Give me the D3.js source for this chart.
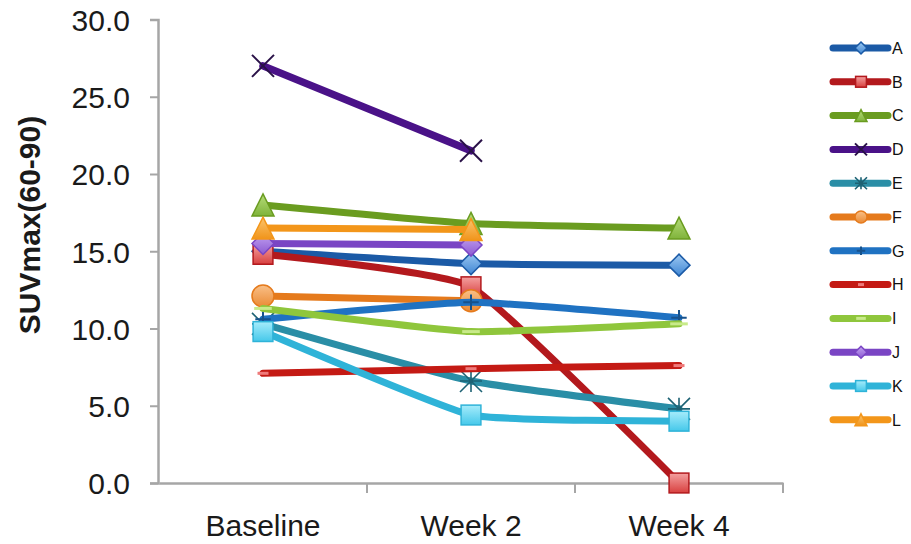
<!DOCTYPE html>
<html>
<head>
<meta charset="utf-8">
<script src="https://cdn.jsdelivr.net/npm/d3@7"></script>
<style>
  html, body { margin: 0; padding: 0; background: #fff; }
  svg { display: block; font-family: "Liberation Sans", Arial, sans-serif; }
</style>
</head>
<body>
<svg id="chart" width="911" height="544"></svg>
<script>
// Time points on the x axis
const categories = ["Baseline", "Week 2", "Week 4"];

// Patients (series names)
const seriesNames = ["A", "B", "C", "D", "E", "F", "G", "H", "I", "J", "K", "L"];

// SUVmax(60-90) per patient at each time point (null = not measured)
const valuesA = [15.0, 14.2, 14.1];
const valuesB = [14.8, 12.7, 0.0];
const valuesC = [18.0, 16.8, 16.5];
const valuesD = [27.0, 21.5, null];
const valuesE = [10.3, 6.6, 4.8];
const valuesF = [12.1, 11.8, null];
const valuesG = [10.6, 11.7, 10.7];
const valuesH = [7.1, 7.4, 7.6];
const valuesI = [11.3, 9.8, 10.3];
const valuesJ = [15.5, 15.4, null];
const valuesK = [9.8, 4.4, 4.0];
const valuesL = [16.5, 16.4, null];

// Y axis tick values
const yTicks = [0, 5, 10, 15, 20, 25, 30];

const allValues = [valuesA, valuesB, valuesC, valuesD, valuesE, valuesF,
                   valuesG, valuesH, valuesI, valuesJ, valuesK, valuesL];

// Line colour, marker fill (light / dark) and marker kind per series
const lineColors = ["#1b5aa6", "#b3191d", "#6a9c20", "#4a1288", "#2a8ea6", "#e57a1c",
                    "#1f72c2", "#c41a14", "#8fc63c", "#7a45c4", "#2fb3d8", "#f3961a"];
const fillLight  = ["#9cc8f2", "#f4a0a0", "#b6dc7a", "#4a1288", "#2a8ea6", "#f9c088",
                    "#1f72c2", "#c41a14", "#8fc63c", "#c4a4f2", "#a6ecfb", "#fbc46e"];
const fillDark   = ["#3f86d4", "#d8403f", "#7fb33a", "#4a1288", "#2a8ea6", "#ea8a34",
                    "#1f72c2", "#c41a14", "#8fc63c", "#8c5ad2", "#45c8ea", "#f0941a"];
const markerKinds = ["diamond", "square", "triangle", "x", "asterisk", "circle",
                     "plus", "dash", "longdash", "diamond", "square", "triangle"];

const series = seriesNames.map((name, i) => ({
  name, values: allValues[i], color: lineColors[i],
  light: fillLight[i], dark: fillDark[i], kind: markerKinds[i], idx: i
}));

const svg = d3.select("#chart");

// gradients for filled markers
const defs = svg.append("defs");
series.forEach(s => {
  const g = defs.append("linearGradient").attr("id", "grad" + s.idx)
    .attr("x1", 0).attr("y1", 0).attr("x2", 0).attr("y2", 1);
  g.append("stop").attr("offset", "0%").attr("stop-color", s.light);
  g.append("stop").attr("offset", "100%").attr("stop-color", s.dark);
});

const x = d3.scaleBand().domain(categories).range([159, 783]).padding(0);
const y = d3.scaleLinear().domain([0, 30]).range([483, 19.5]);
const cx = c => x(c) + x.bandwidth() / 2;

// Y axis
const yAxis = svg.append("g").attr("transform", "translate(158,0)")
  .call(d3.axisLeft(y).tickValues(yTicks).tickFormat(d3.format(".1f"))
        .tickSize(8).tickPadding(20));
yAxis.select(".domain").attr("stroke", "#a6a6a6").attr("stroke-width", 2.5);
yAxis.selectAll(".tick line").attr("stroke", "#a6a6a6").attr("stroke-width", 2);
yAxis.selectAll(".tick text").attr("font-size", 30).attr("fill", "#1a1a1a")
  .attr("dy", "0.36em");

// X axis: labels at category centres, tick marks between categories
const xAxis = svg.append("g").attr("transform", "translate(0,483)")
  .call(d3.axisBottom(x).tickSize(0).tickPadding(0));
xAxis.select(".domain").attr("stroke", "#a6a6a6").attr("stroke-width", 2.5);
xAxis.selectAll(".tick text").attr("font-size", 30).attr("fill", "#1a1a1a")
  .attr("y", 53).attr("dy", 0);
xAxis.selectAll(".sep").data(categories.slice(1).concat(["end"]))
  .join("line").attr("class", "sep")
  .attr("x1", (d, i) => x.range()[0] + x.step() * (i + 1))
  .attr("x2", (d, i) => x.range()[0] + x.step() * (i + 1))
  .attr("y1", 0).attr("y2", 10)
  .attr("stroke", "#a6a6a6").attr("stroke-width", 2);

// Y axis title
svg.append("text")
  .attr("transform", "translate(40,225) rotate(-90)")
  .attr("text-anchor", "middle")
  .attr("font-size", 30).attr("font-weight", "bold").attr("fill", "#1a1a1a")
  .text("SUVmax(60-90)");

// Marker drawing
function drawMarker(g, s, size) {
  const r = size / 2;
  const fill = "url(#grad" + s.idx + ")";
  switch (s.kind) {
    case "diamond":
      g.append("path").attr("d", `M0,${-r}L${r},0L0,${r}L${-r},0Z`)
        .attr("fill", fill).attr("stroke", s.color).attr("stroke-width", 1.5);
      break;
    case "square":
      g.append("rect").attr("x", -r * 0.9).attr("y", -r * 0.9)
        .attr("width", r * 1.8).attr("height", r * 1.8)
        .attr("fill", fill).attr("stroke", s.color).attr("stroke-width", 1.5);
      break;
    case "triangle":
      g.append("path").attr("d", `M0,${-r}L${r},${r}L${-r},${r}Z`)
        .attr("fill", fill).attr("stroke", s.color).attr("stroke-width", 1.5);
      break;
    case "circle":
      g.append("circle").attr("r", r)
        .attr("fill", fill).attr("stroke", s.color).attr("stroke-width", 1.5);
      break;
    case "x":
      g.append("path").attr("d", `M${-r},${-r}L${r},${r}M${-r},${r}L${r},${-r}`)
        .attr("stroke", "#2a1248").attr("stroke-width", 2).attr("fill", "none");
      break;
    case "asterisk":
      g.append("path")
        .attr("d", `M${-r},${-r}L${r},${r}M${-r},${r}L${r},${-r}M0,${-r}L0,${r}M${-r},0L${r},0`)
        .attr("stroke", "#1d6274").attr("stroke-width", 1.6).attr("fill", "none");
      break;
    case "plus":
      g.append("path").attr("d", `M0,${-r * 0.7}L0,${r * 0.7}M${-r * 0.7},0L${r * 0.7},0`)
        .attr("stroke", "#17528c").attr("stroke-width", 2).attr("fill", "none");
      break;
    case "dash":
      g.append("path").attr("d", `M${-r * 0.5},0L${r * 0.5},0`)
        .attr("stroke", "#ef7a7a").attr("stroke-width", 3).attr("fill", "none");
      break;
    case "longdash":
      g.append("path").attr("d", `M${-r * 0.8},0L${r * 0.8},0`)
        .attr("stroke", "#c8ea8a").attr("stroke-width", 3).attr("fill", "none");
      break;
  }
}

// Lines (lightly smoothed) and markers, one group per series in order
const line = d3.line()
  .defined(d => d.v !== null)
  .x(d => cx(d.c)).y(d => y(d.v))
  .curve(d3.curveCardinal.tension(0.6));

series.forEach(s => {
  const pts = categories.map((c, i) => ({ c, v: s.values[i] }));
  const g = svg.append("g").attr("class", "series");
  g.append("path").datum(pts)
    .attr("d", line)
    .attr("fill", "none").attr("stroke", s.color)
    .attr("stroke-width", s.kind === "x" ? 7.5 : 7)
    .attr("stroke-linejoin", "round").attr("stroke-linecap", "round");
  pts.filter(p => p.v !== null).forEach(p => {
    const m = g.append("g").attr("transform", `translate(${cx(p.c)},${y(p.v)})`);
    drawMarker(m, s, 22);
  });
});

// Legend
const legend = svg.append("g").attr("class", "legend");
series.forEach((s, i) => {
  const ly = 48 + i * 33.8;
  const row = legend.append("g").attr("transform", `translate(0,${ly})`);
  row.append("line").attr("x1", 833).attr("x2", 888).attr("y1", 0).attr("y2", 0)
    .attr("stroke", s.color).attr("stroke-width", 7).attr("stroke-linecap", "round");
  const m = row.append("g").attr("transform", "translate(861,0)");
  drawMarker(m, s, 12);
  row.append("text").attr("x", 892).attr("y", 0).attr("dy", "0.36em")
    .attr("font-size", 16).attr("fill", "#111").text(s.name);
});
</script>
</body>
</html>
